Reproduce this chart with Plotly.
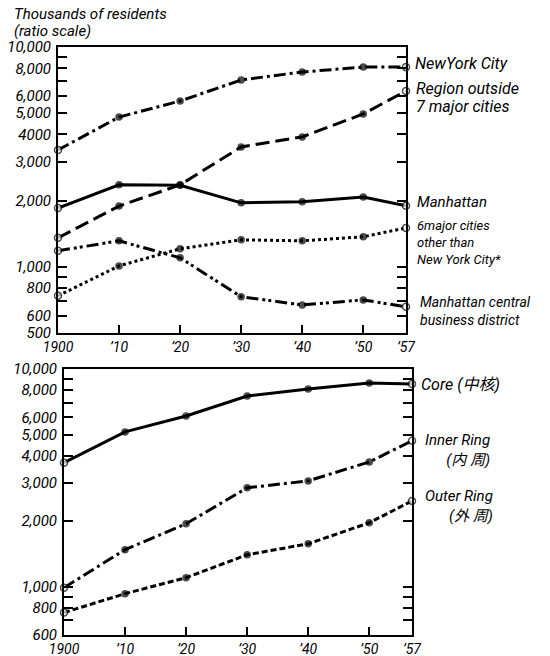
import math
import plotly.graph_objects as go

# ---------------- data ----------------
years = [1900, 1910, 1920, 1930, 1940, 1950, 1957]
year_labels = ["1900", "’10", "’20", "’30", "’40", "’50", "’57"]

# top panel (thousands of residents)
nyc = [3400, 4800, 5680, 7080, 7700, 8100, 8100]
region_outside = [1355, 1890, 2360, 3510, 3900, 4960, 6310]
manhattan = [1850, 2360, 2350, 1955, 1975, 2080, 1895]
six_cities = [738, 1010, 1208, 1327, 1313, 1370, 1503]
manhattan_cbd = [1183, 1313, 1099, 731, 671, 707, 658]

# bottom panel
core = [3710, 5140, 6085, 7520, 8090, 8630, 8540]
inner_ring = [990, 1480, 1946, 2846, 3062, 3740, 4680]
outer_ring = [761, 929, 1100, 1402, 1574, 1966, 2478]

top_tickvals = [500, 600, 700, 800, 900, 1000, 2000, 3000, 4000, 5000, 6000, 7000, 8000, 9000, 10000]
top_ticktext = ["500", "600", "", "800", "", "1,000", "2,000", "3,000", "4000", "5,000", "6,000", "", "8,000", "", "10,000"]
bot_tickvals = [600, 700, 800, 900, 1000, 2000, 3000, 4000, 5000, 6000, 7000, 8000, 9000, 10000]
bot_ticktext = ["600", "", "800", "", "1,000", "2,000", "3,000", "4,000", "5,000", "6,000", "", "8,000", "", "10,000"]

W, H = 550, 656
FONT = "Roboto, Liberation Sans, Noto Sans CJK JP, sans-serif"

fig = go.Figure()


def add_series(vals, dash, xa, ya, width=3):
    n = len(vals)
    colors = ["white"] + ["black"] * (n - 2) + ["white"]
    fig.add_trace(go.Scatter(
        x=years, y=vals, mode="lines+markers",
        line=dict(color="black", width=width, dash=dash),
        marker=dict(size=[7] + [6] * (n - 2) + [7], color=colors,
                    line=dict(color="black", width=1.5)),
        xaxis=xa, yaxis=ya, showlegend=False, hoverinfo="skip", cliponaxis=False,
    ))


add_series(nyc, "12px,4px,3px,4px", "x", "y")
add_series(region_outside, "14px,6px", "x", "y")
add_series(manhattan, "solid", "x", "y")
add_series(six_cities, "3px,3px", "x", "y")
add_series(manhattan_cbd, "12px,4px,3px,3px,3px,4px", "x", "y")

add_series(core, "solid", "x2", "y2")
add_series(inner_ring, "12px,4px,3px,4px", "x2", "y2")
add_series(outer_ring, "6px,3px", "x2", "y2")


def px_x(p):
    return p / W


def px_y(p):
    return 1 - p / H


ytickfont = dict(family=FONT, size=15, color="black", style="italic")
xtickfont = dict(family=FONT, size=14, color="black", style="italic")

xcommon = dict(tickvals=years, ticktext=year_labels, ticks="inside", ticklen=8,
               tickwidth=1.5, showline=True, linecolor="black", linewidth=2,
               mirror=True, showgrid=False, zeroline=False, tickfont=xtickfont,
               tickcolor="black", fixedrange=True, range=[1900, 1957],
               automargin=False, ticklabelstandoff=0)
ycommon = dict(type="log", ticks="inside", ticklen=9, tickwidth=1.5,
               showline=True, linecolor="black", linewidth=2, mirror="ticks",
               showgrid=False, zeroline=False, tickfont=ytickfont,
               tickcolor="black", fixedrange=True, automargin=False,
               ticklabelstandoff=2)

fig.update_layout(
    width=W, height=H, margin=dict(l=0, r=0, t=0, b=0, autoexpand=False),
    paper_bgcolor="white", plot_bgcolor="white",
    xaxis=dict(domain=[px_x(58), px_x(406)], anchor="y", **xcommon),
    yaxis=dict(domain=[px_y(333), px_y(47)], anchor="x",
               range=[math.log10(500), 4], tickvals=top_tickvals,
               ticktext=top_ticktext, **ycommon),
    xaxis2=dict(domain=[px_x(64), px_x(412)], anchor="y2", **xcommon),
    yaxis2=dict(domain=[px_y(635), px_y(369)], anchor="x2",
                range=[math.log10(600), 4], tickvals=bot_tickvals,
                ticktext=bot_ticktext, **ycommon),
)

labels = [
    ("Thousands of residents", 12, 14, 15, "left"),
    ("(ratio scale)", 12, 31, 15, "left"),
    ("NewYork City", 413, 64, 16, "left"),
    ("Region outside", 414, 88, 16, "left"),
    ("7 major cities", 414, 106, 16, "left"),
    ("Manhattan", 415, 202, 15, "left"),
    ("6major cities<br>other than<br>New York City*", 415, 243, 13, "left"),
    ("Manhattan central<br>business district", 418, 311, 14, "left"),
    ("Core (中核)", 419, 384, 16, "left"),
    ("Inner Ring<br>(内 周)", 423, 450, 15, "right"),
    ("Outer Ring<br>(外 周)", 423, 506, 15, "right"),
]
for text, x, y, size, align in labels:
    fig.add_annotation(text=text, x=px_x(x), y=px_y(y), xref="paper", yref="paper",
                       xanchor="left", yanchor="middle", align=align, showarrow=False,
                       font=dict(family=FONT, size=size, color="black", style="italic"))

fig.write_html("out.html", config={"displayModeBar": False},
               post_script="document.body.style.margin='0';document.body.style.overflow='hidden';")
